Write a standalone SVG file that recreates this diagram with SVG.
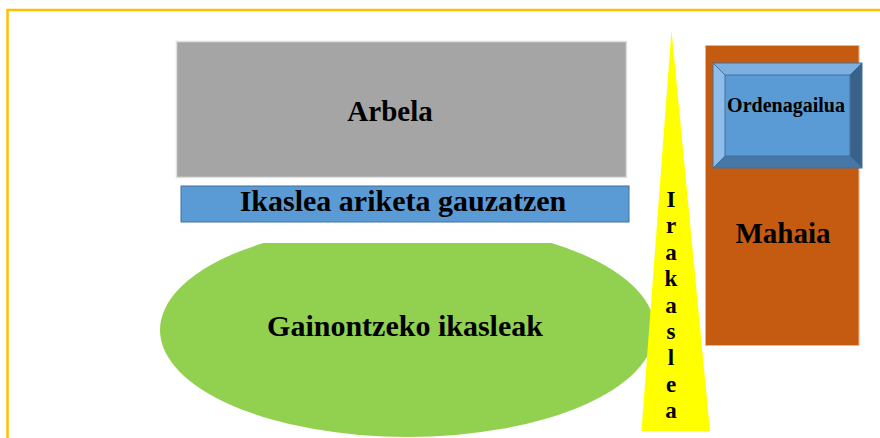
<svg xmlns="http://www.w3.org/2000/svg" width="880" height="438" viewBox="0 0 880 438">
<style>
.t{font-family:"Liberation Serif","Times New Roman",serif;font-weight:bold;fill:#000;text-anchor:middle}
</style>
<rect width="880" height="438" fill="#fff"/>
<path d="M7.5,438 V10 H880" fill="none" stroke="#FFC000" stroke-width="2.5"/>
<g id="arbela">
<rect x="176.5" y="41.5" width="450" height="136" fill="#A5A5A5" stroke="#E0E0E0" stroke-width="1.5"/>
<text class="t" x="390" y="121" font-size="29">Arbela</text>
</g>
<g id="ikaslea">
<rect x="181" y="186" width="448" height="36" fill="#5B9BD5" stroke="#41719C" stroke-width="1"/>
<text class="t" x="403" y="211" font-size="30">Ikaslea ariketa gauzatzen</text>
</g>
<g id="gainontzeko">
<clipPath id="ec"><rect x="0" y="243" width="880" height="200"/></clipPath>
<ellipse cx="407.5" cy="330" rx="247.5" ry="107" fill="#92D050" clip-path="url(#ec)"/>
<text class="t" x="405" y="336" font-size="30">Gainontzeko ikasleak</text>
</g>
<g id="irakaslea">
<polygon points="671.5,30 641.5,431 710,431" fill="#FFFF00"/>
<g class="t" font-size="23">
<text x="671" y="207">I</text>
<text x="671" y="233">r</text>
<text x="671" y="260">a</text>
<text x="671" y="286">k</text>
<text x="671" y="313">a</text>
<text x="671" y="339">s</text>
<text x="671" y="365">l</text>
<text x="671" y="392">e</text>
<text x="671" y="418">a</text>
</g>
</g>
<g id="mahaia">
<rect x="705.5" y="45.5" width="153.5" height="300" fill="#C55A11" stroke="#F4B183" stroke-width="1"/>
<text class="t" x="783" y="243" font-size="29">Mahaia</text>
</g>
<g id="ordenagailua">
<rect x="713" y="63" width="149" height="105" fill="#5B9BD5"/>
<polygon points="713,63 862,63 850,75 725,75" fill="#7DB0E1"/>
<polygon points="713,63 725,75 725,156 713,168" fill="#8DBDE8"/>
<polygon points="862,63 862,168 850,156 850,75" fill="#3A6288"/>
<polygon points="713,168 725,156 850,156 862,168" fill="#4777A6"/>
<rect x="725" y="75" width="125" height="81" fill="#5B9BD5"/>
<g fill="none" stroke="#41719C" stroke-width="1">
<rect x="713" y="63" width="149" height="105"/>
<rect x="725" y="75" width="125" height="81"/>
<path d="M713,63 L725,75 M862,63 L850,75 M713,168 L725,156 M862,168 L850,156"/>
</g>
<text class="t" x="786" y="112" font-size="20">Ordenagailua</text>
</g>
</svg>
